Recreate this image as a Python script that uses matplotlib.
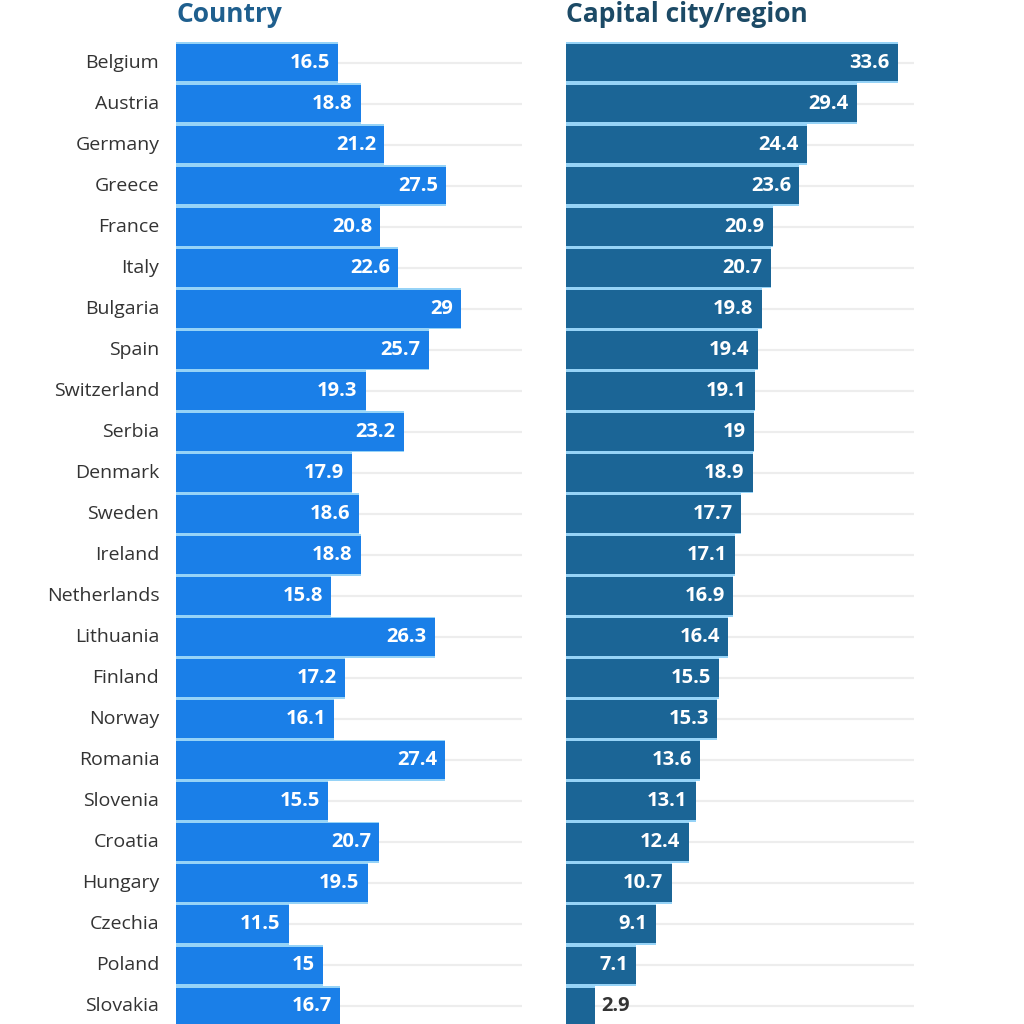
import matplotlib
matplotlib.use("Agg")
import matplotlib.pyplot as plt
import numpy as np

plt.rcParams['font.family'] = ['Open Sans', 'DejaVu Sans']

countries = ["Belgium", "Austria", "Germany", "Greece", "France", "Italy",
             "Bulgaria", "Spain", "Switzerland", "Serbia", "Denmark", "Sweden",
             "Ireland", "Netherlands", "Lithuania", "Finland", "Norway",
             "Romania", "Slovenia", "Croatia", "Hungary", "Czechia", "Poland",
             "Slovakia"]
country_vals = [16.5, 18.8, 21.2, 27.5, 20.8, 22.6, 29, 25.7, 19.3, 23.2,
                17.9, 18.6, 18.8, 15.8, 26.3, 17.2, 16.1, 27.4, 15.5, 20.7,
                19.5, 11.5, 15, 16.7]
capital_vals = [33.6, 29.4, 24.4, 23.6, 20.9, 20.7, 19.8, 19.4, 19.1, 19,
                18.9, 17.7, 17.1, 16.9, 16.4, 15.5, 15.3, 13.6, 13.1, 12.4,
                10.7, 9.1, 7.1, 2.9]
titles = ["Country", "Capital city/region"]

W = 1024
fig = plt.figure(figsize=(10.24, 10.24), dpi=100)

y = np.arange(len(countries))
step = 41.04
top_px = 40
y0_px = 62.5
ylim = ((W - y0_px) / step, (top_px - y0_px) / step)
ax_h = (W - top_px) / W
xmax = 35.2

panels = [
    (176, 522, country_vals, "#1a7fe8", "#1f5f8e", titles[0]),
    (566, 914, capital_vals, "#1b6596", "#1c4a66", titles[1]),
]

for x0, x1, vals, col, tcol, title in panels:
    ax = fig.add_axes([x0 / W, 0, (x1 - x0) / W, ax_h])
    ax.set_xlim(0, xmax)
    ax.set_ylim(*ylim)
    for yi in y:
        ax.axhline(yi, color="#ededed", lw=1.6, zorder=0)
    ax.barh(y, vals, height=1.0, color="#96d3f7", zorder=1)
    ax.barh(y, vals, height=0.92, color=col, zorder=2)
    for yi, v in zip(y, vals):
        txt = f"{v:g}"
        if v > 5:
            ax.annotate(txt, (v, yi), xytext=(-6, 0), textcoords="offset points",
                        ha="right", va="center", color="white",
                        fontsize=14.5, fontweight="bold", zorder=3)
        else:
            ax.annotate(txt, (v, yi), xytext=(5, 0), textcoords="offset points",
                        ha="left", va="center", color="#333333",
                        fontsize=14.5, fontweight="bold", zorder=3)
    ax.axis("off")
    # titles sit right at the top edge, as in the source
    fig.text(x0 / W, 1 - 1 / W, title, ha="left", va="top",
             fontsize=19, fontweight="bold", color=tcol)

    if x0 == 176:
        for yi, name in zip(y, countries):
            ax.annotate(name, (0, yi), xytext=(-12, 0), textcoords="offset points",
                        ha="right", va="center", color="#333333", fontsize=14,
                        annotation_clip=False)

fig.savefig("out.png", dpi=100, facecolor="white")
